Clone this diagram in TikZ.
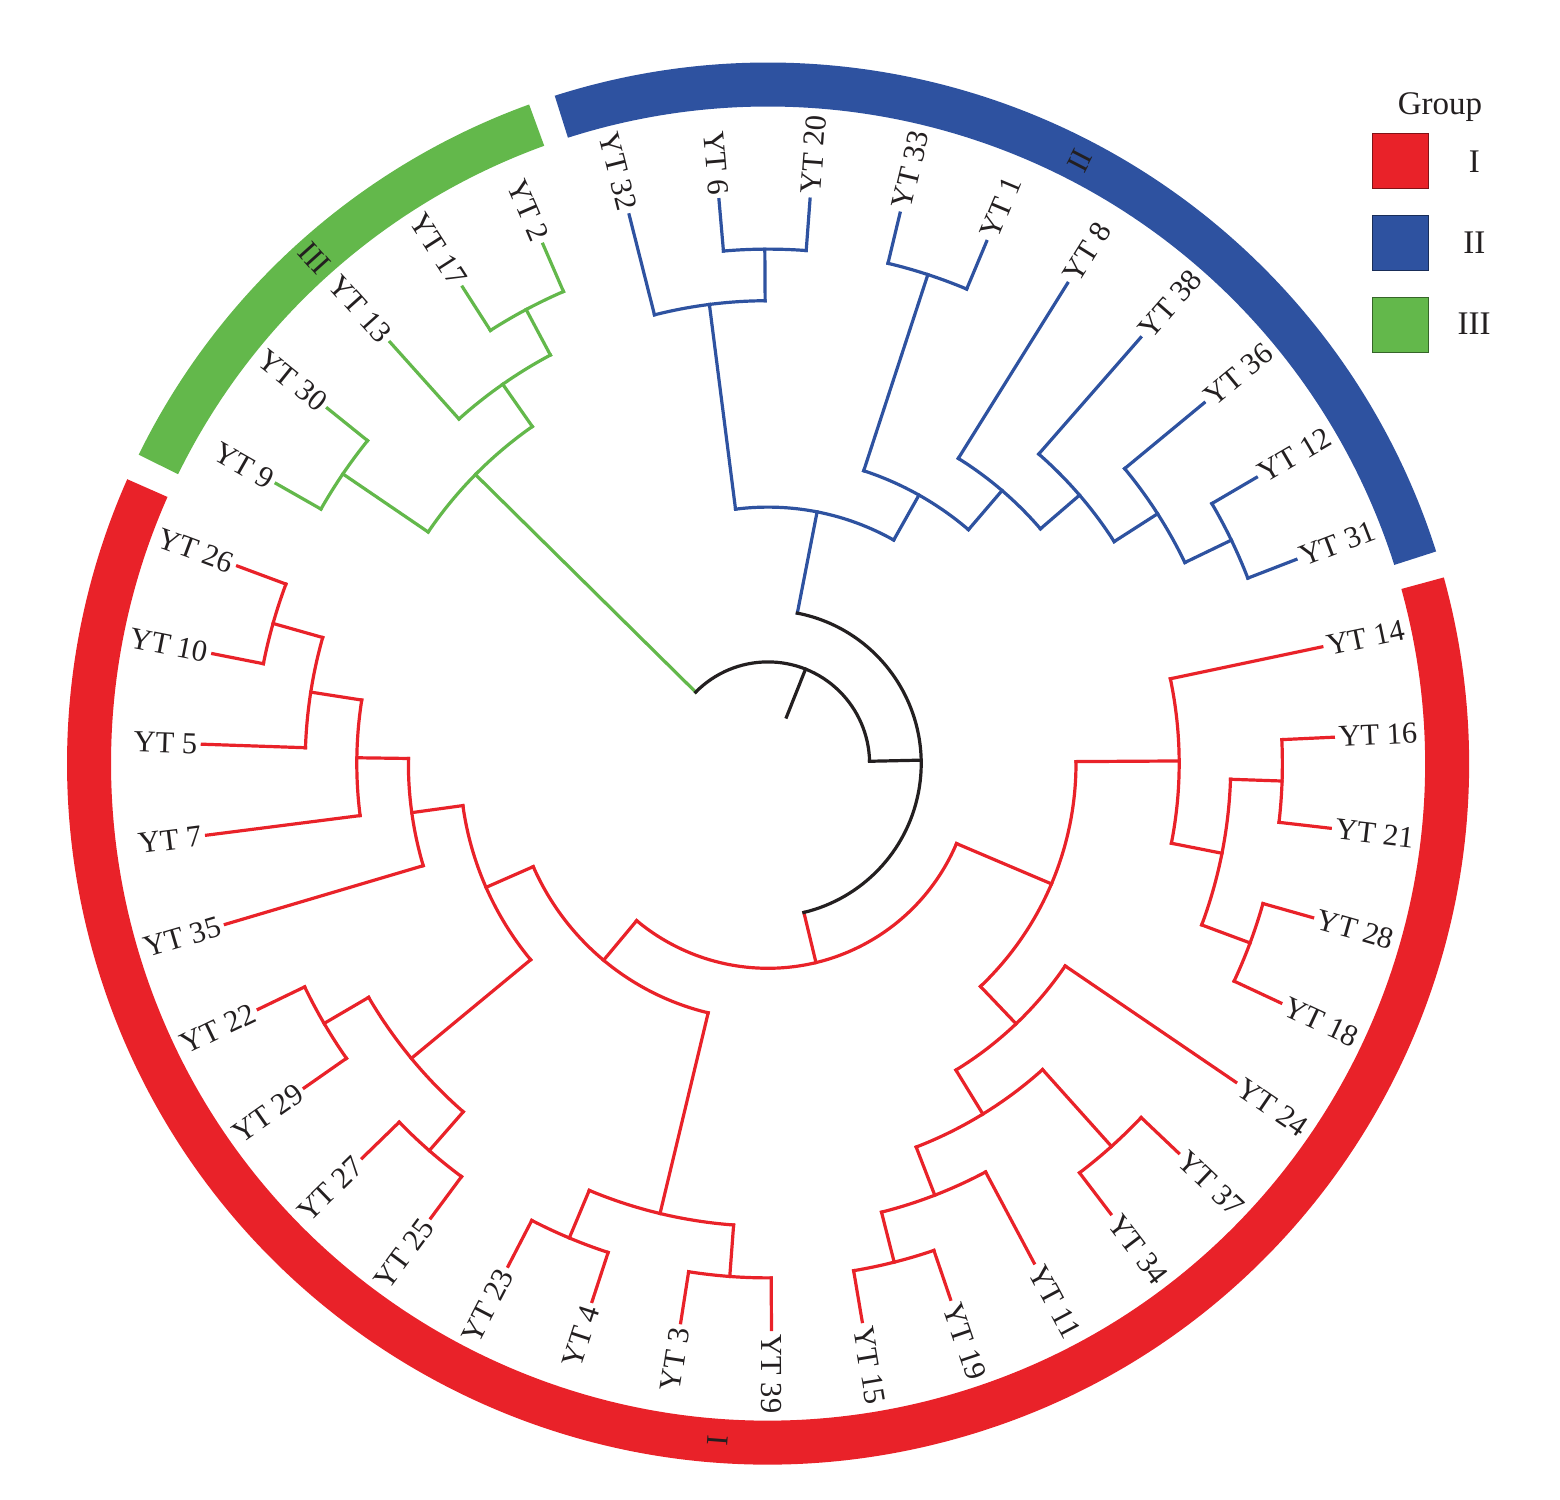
\documentclass[tikz,border=0pt]{standalone}
\usepackage{fontspec}
\setmainfont{Liberation Serif}
\definecolor{gI}{HTML}{E92229}
\definecolor{gII}{HTML}{2E52A0}
\definecolor{gIII}{HTML}{63B84B}
\definecolor{ink}{HTML}{231F20}
\newcommand\setA[2]{\expandafter\xdef\csname tA-#1\endcsname{#2}}
\newcommand\getA[1]{\csname tA-#1\endcsname}
\newcommand\setC[2]{\expandafter\xdef\csname tC-#1\endcsname{#2}}
\newcommand\getC[1]{\csname tC-#1\endcsname}
\tikzset{
  br/.style={line width=3.2pt, line cap=rect},
  lab/.style={inner sep=0pt, text=ink, font=\fontsize{30.5}{36}\selectfont},
  ringlab/.style={inner sep=0pt, text=ink, font=\fontsize{31}{36}\selectfont},
  band/.style={line width=44pt},
  legbox/.style={minimum width=56pt, minimum height=55pt, inner sep=0pt, line width=1pt},
  legtxt/.style={inner sep=0pt, text=ink, font=\fontsize{33}{38}\selectfont},
}
\newcommand\tip[4]{%
  \pgfmathsetmacro\tipA{104.2-360/39*(#2)}%
  \setA{#1}{\tipA}\setC{#1}{#4}%
  \coordinate (#1) at (\tipA:566pt);%
  \pgfmathsetmacro\tipC{cos(\tipA)}%
  \ifdim\tipC pt<0pt
    \pgfmathsetmacro\tipR{\tipA+180}%
    \node[lab,anchor=east,rotate=\tipR] (#1-l) at (\tipA:571pt) {#3};%
  \else
    \node[lab,anchor=west,rotate=\tipA] (#1-l) at (\tipA:571pt) {#3};%
  \fi
}
\newcommand\inode[5]{%
  \pgfmathsetmacro\nA{\getA{#3}}%
  \pgfmathsetmacro\nB{\getA{#4}}%
  \pgfmathsetmacro\nM{(\nA+\nB)/2}%
  \pgfmathsetmacro\nR{50+51.6*#2}%
  \setA{#1}{\nM}\setC{#1}{#5}%
  \edef\cA{\getC{#3}}\edef\cB{\getC{#4}}%
  \coordinate (#1) at (\nM:\nR pt);%
  \coordinate (#1-a) at (\nA:\nR pt);%
  \coordinate (#1-b) at (\nB:\nR pt);%
  \draw[br,color=\cA] (#1-a) -- (#3);%
  \draw[br,color=\cB] (#1-b) -- (#4);%
  \draw[br,color=#5] (#1-a) arc[start angle=\nA, end angle=\nB, radius=\nR pt];%
}
\begin{document}
\begin{tikzpicture}
\useasboundingbox (-768pt,-735.5pt) rectangle (792pt,763.5pt);
% outer group ring
\draw[band,gI] (15.4:679pt) arc[start angle=15.4, end angle=-203.93, radius=679pt];
\draw[band,gII] (107.72:679pt) arc[start angle=107.72, end angle=17.6, radius=679pt];
\draw[band,gIII] (153.87:679pt) arc[start angle=153.87, end angle=109.92, radius=679pt];
\node[ringlab,rotate=85.73] (ring-I) at (265.73:679pt) {I};
\node[ringlab,rotate=62.66] (ring-II) at (62.66:679pt) {II};
\node[ringlab,rotate=311.9] (ring-III) at (131.9:679pt) {III};
% tips
\tip{t32}{0}{YT 32}{gII}
\tip{t6}{1}{YT 6}{gII}
\tip{t20}{2}{YT 20}{gII}
\tip{t33}{3}{YT 33}{gII}
\tip{t1}{4}{YT 1}{gII}
\tip{t8}{5}{YT 8}{gII}
\tip{t38}{6}{YT 38}{gII}
\tip{t36}{7}{YT 36}{gII}
\tip{t12}{8}{YT 12}{gII}
\tip{t31}{9}{YT 31}{gII}
\tip{t14}{10}{YT 14}{gI}
\tip{t16}{11}{YT 16}{gI}
\tip{t21}{12}{YT 21}{gI}
\tip{t28}{13}{YT 28}{gI}
\tip{t18}{14}{YT 18}{gI}
\tip{t24}{15}{YT 24}{gI}
\tip{t37}{16}{YT 37}{gI}
\tip{t34}{17}{YT 34}{gI}
\tip{t11}{18}{YT 11}{gI}
\tip{t19}{19}{YT 19}{gI}
\tip{t15}{20}{YT 15}{gI}
\tip{t39}{21}{YT 39}{gI}
\tip{t3}{22}{YT 3}{gI}
\tip{t4}{23}{YT 4}{gI}
\tip{t23}{24}{YT 23}{gI}
\tip{t25}{25}{YT 25}{gI}
\tip{t27}{26}{YT 27}{gI}
\tip{t29}{27}{YT 29}{gI}
\tip{t22}{28}{YT 22}{gI}
\tip{t35}{29}{YT 35}{gI}
\tip{t7}{30}{YT 7}{gI}
\tip{t5}{31}{YT 5}{gI}
\tip{t10}{32}{YT 10}{gI}
\tip{t26}{33}{YT 26}{gI}
\tip{t9}{-5}{YT 9}{gIII}
\tip{t30}{-4}{YT 30}{gIII}
\tip{t13}{-3}{YT 13}{gIII}
\tip{t17}{-2}{YT 17}{gIII}
\tip{t2}{-1}{YT 2}{gIII}
% blue clade
\inode{b620}{9}{t6}{t20}{gII}
\inode{b1}{8}{t32}{b620}{gII}
\inode{b331}{9}{t33}{t1}{gII}
\inode{b7}{9}{t12}{t31}{gII}
\inode{b6}{8}{t36}{b7}{gII}
\inode{b5}{7}{t38}{b6}{gII}
\inode{b4}{6}{t8}{b5}{gII}
\inode{b3}{5}{b331}{b4}{gII}
\inode{b0}{4}{b1}{b3}{gII}
% red clade
\inode{r1621}{9}{t16}{t21}{gI}
\inode{r2818}{9}{t28}{t18}{gI}
\inode{rq}{8}{r1621}{r2818}{gI}
\inode{r1}{7}{t14}{rq}{gI}
\inode{r3734}{9}{t37}{t34}{gI}
\inode{r1915}{9}{t19}{t15}{gI}
\inode{r11}{8}{t11}{r1915}{gI}
\inode{rx}{7}{r3734}{r11}{gI}
\inode{r2}{6}{t24}{rx}{gI}
\inode{rr}{5}{r1}{r2}{gI}
\inode{r339}{9}{t39}{t3}{gI}
\inode{r234}{9}{t4}{t23}{gI}
\inode{nc}{8}{r339}{r234}{gI}
\inode{r2725}{9}{t25}{t27}{gI}
\inode{r2229}{9}{t29}{t22}{gI}
\inode{nb}{8}{r2725}{r2229}{gI}
\inode{r2610}{9}{t10}{t26}{gI}
\inode{n5}{8}{t5}{r2610}{gI}
\inode{n7}{7}{t7}{n5}{gI}
\inode{n35}{6}{t35}{n7}{gI}
\inode{na}{5}{nb}{n35}{gI}
\inode{rl}{4}{nc}{na}{gI}
\inode{ra}{3}{rr}{rl}{gI}
% green clade
\inode{g930}{9}{t9}{t30}{gIII}
\inode{g172}{9}{t17}{t2}{gIII}
\inode{g13}{8}{t13}{g172}{gIII}
\inode{g}{7}{g930}{g13}{gIII}
% backbone
\inode{bred}{2}{b0}{ra}{ink}
\inode{root}{1}{g}{bred}{ink}
\pgfmathsetmacro\rootA{\getA{root}}
\coordinate (rootin) at (\rootA:50pt);
\draw[br,ink] (rootin) -- (root);
% legend
\node[legtxt,anchor=base] (leg-title) at (672pt,648.5pt) {Group};
\node[legbox,fill=gI,draw=gI!55!black] (leg-I) at (632.3pt,602.7pt) {};
\node[legbox,fill=gII,draw=gII!55!black] (leg-II) at (632.3pt,520.3pt) {};
\node[legbox,fill=gIII,draw=gIII!55!black] (leg-III) at (632.3pt,438.2pt) {};
\node[legtxt] (leg-I-t) at (706.3pt,602.2pt) {I};
\node[legtxt] (leg-II-t) at (706.4pt,520.9pt) {II};
\node[legtxt] (leg-III-t) at (706.2pt,439.5pt) {III};
\end{tikzpicture}
\end{document}
